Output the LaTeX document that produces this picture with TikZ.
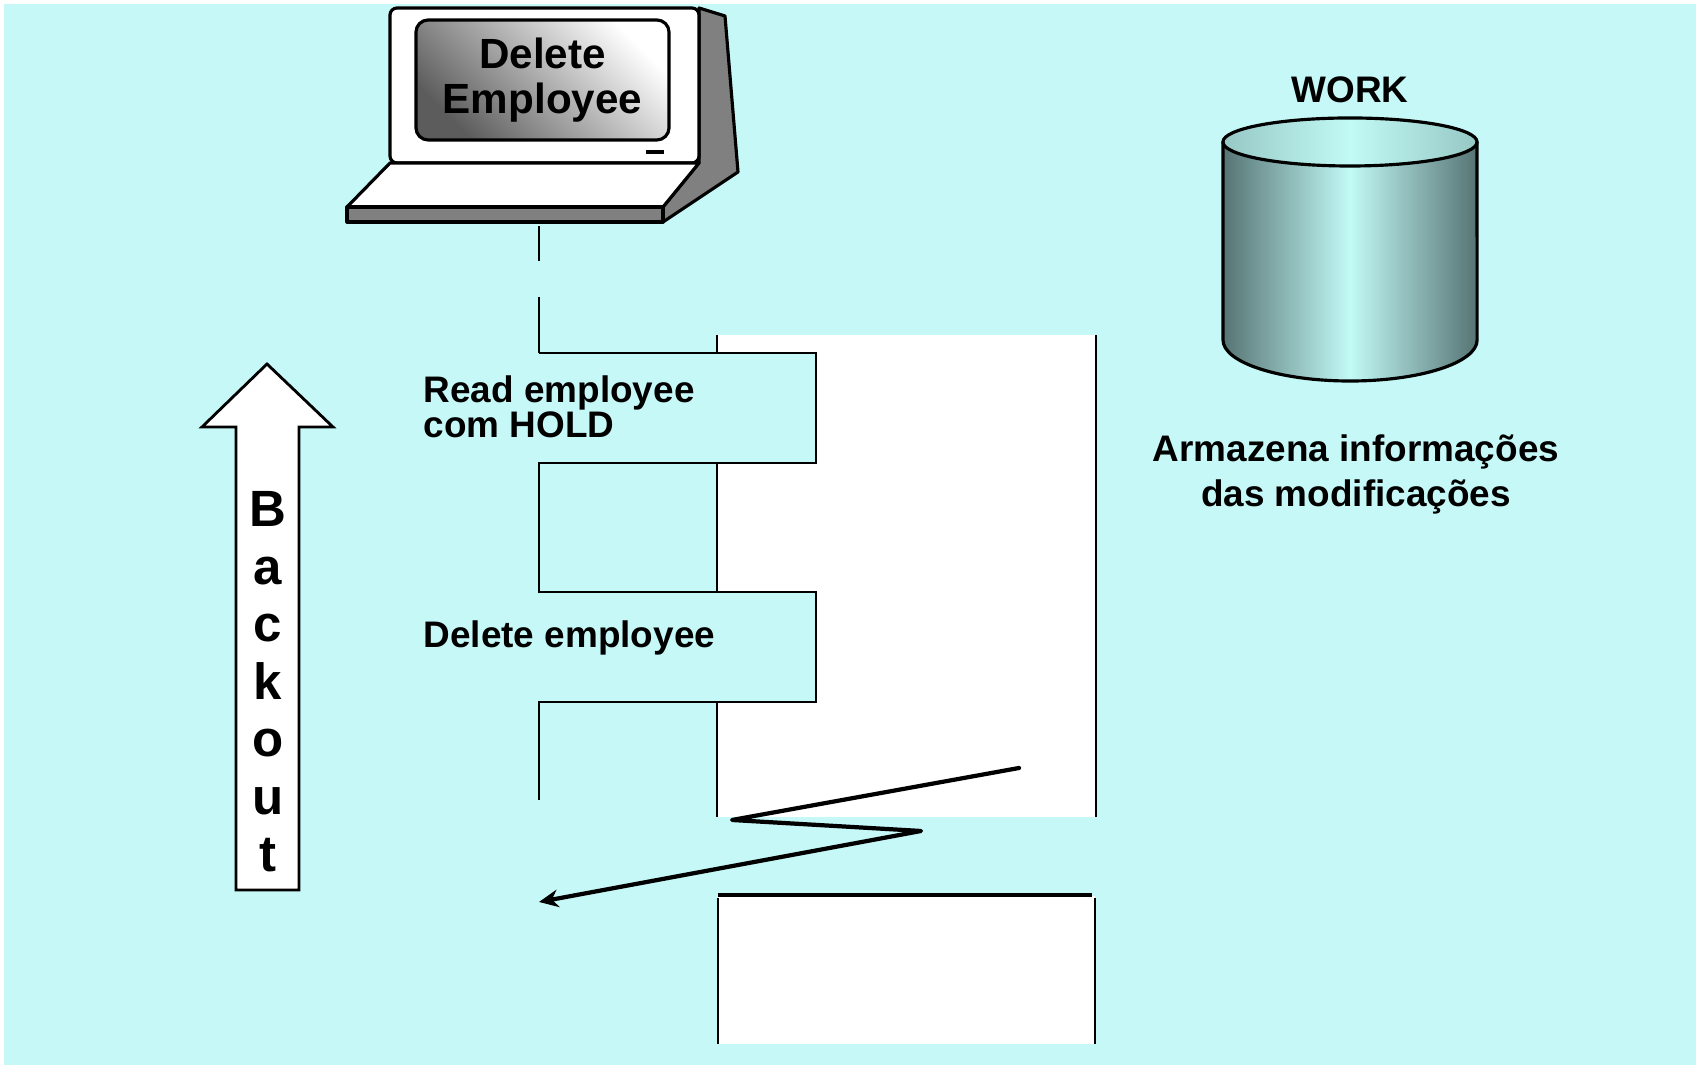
\documentclass[tikz,border=0pt]{standalone}
\usepackage{fontspec}
\setmainfont{Liberation Sans}
\usetikzlibrary{arrows.meta}

\definecolor{bgcyan}{RGB}{198,248,248}
\definecolor{casegray}{RGB}{128,128,128}
\definecolor{screendark}{RGB}{92,92,92}
\definecolor{drumdark}{RGB}{86,116,116}
\definecolor{drumlight}{RGB}{194,250,246}
\definecolor{drumrim}{RGB}{150,200,196}

\tikzset{
  txt/.style={font=\bfseries\fontsize{10.5}{10}\selectfont, inner sep=0pt},
  flow/.style={line width=0.7pt},
  case/.style={draw=black, line width=0.9pt, line join=round},
  screen/.style={case, rounded corners=3.5pt, minimum width=2.53cm, minimum height=1.2cm,
    top color=white, bottom color=screendark, shading angle=-45,
    align=center, font=\bfseries\fontsize{12}{13}\selectfont},
  backout/.style={font=\bfseries\fontsize{14.5}{14.5}\selectfont, inner sep=0pt, anchor=base},
}

\begin{document}
\begin{tikzpicture}[x=0.01cm, y=-0.01cm]
    \useasboundingbox (0,0) rectangle (1696,1065);
    \fill[bgcyan] (4,4) rectangle (1696,1065);

    % Terminal: side panel, face, keyboard
    \filldraw[case, fill=casegray] (699,8) -- (725,16) -- (738,172) -- (663,222) -- (663,207) -- (699,163) -- cycle;
    \filldraw[case, fill=white, rounded corners=2pt] (390,163) rectangle (699,8);
    \filldraw[case, fill=white] (390,163) -- (699,163) -- (663,207) -- (347,207) -- cycle;
    \filldraw[case, fill=casegray] (347,207) rectangle (663,222);
    \node[screen] (screen) at (542.5,80) {Delete\\Employee};
    \fill (646,150) rectangle (664,154);

    % Program flow
    \coordinate (kbd) at (539,226);
    \foreach \x/\y/\n in {539/353/f1, 816/353/f2, 816/463/f3, 539/463/f4, 539/592/f5,
                          816/592/f6, 816/702/f7, 539/702/f8, 539/800/f9} {
        \coordinate (\n) at (\x,\y);
    }
    \fill[white] (717,335) rectangle (1096,817);
    \draw[flow] (717,335) -- (717,817);
    \draw[flow] (1096,335) -- (1096,817);
    \fill[bgcyan] (f1) rectangle (f3);
    \fill[bgcyan] (f5) rectangle (f7);
    \draw[flow, dash pattern=on 10pt off 10.2pt on 30pt] (kbd) -- (f1);
    \draw[flow] (f1) -- (f2) -- (f3) -- (f4) -- (f5) -- (f6) -- (f7) -- (f8) -- (f9);
    \node[txt, align=left, anchor=base west] (readlbl) at (423,438) {Read employee\\com HOLD};
    \node[txt, anchor=base west] (dellbl) at (423,648) {Delete employee};

    % Next block
    \fill[white] (718,896) rectangle (1095,1044);
    \draw[flow] (718,1044) -- (718,898);
    \draw[flow] (1095,898) -- (1095,1044);
    \draw[line width=1pt] (718,895) -- (1092,895);

    % Abend
    \coordinate (zz0) at (1019,768);
    \coordinate (zz1) at (732,820);
    \coordinate (zz2) at (921,831);
    \coordinate (back) at (539,902);
    \draw[line width=1.2pt, line cap=round, line join=round, -{Stealth[length=5.5pt, width=5pt]}]
        (zz0) -- (zz1) -- (zz2) -- (back);

    % Backout arrow
    \filldraw[fill=white, line width=0.8pt] (267,364) -- (333,427) -- (299,427) -- (299,890)
        -- (236,890) -- (236,427) -- (202,427) -- cycle;
    \foreach \ch [count=\i from 0] in {B,a,c,k,o,u,t} {
        \node[backout] (bk\i) at (268,{527+57.5*\i}) {\ch};
    }

    % WORK file
    \shade[left color=drumdark, right color=drumdark, middle color=drumlight] (1223,142) -- (1223,340)
        arc[start angle=180, end angle=360, x radius=1.27cm, y radius=0.41cm] -- (1477,142) -- cycle;
    \shade[left color=drumrim, right color=drumrim, middle color=drumlight] (1350,142) ellipse[x radius=1.27cm, y radius=0.24cm];
    \draw[line width=0.9pt] (1223,142) -- (1223,340)
        arc[start angle=180, end angle=360, x radius=1.27cm, y radius=0.41cm] -- (1477,142);
    \draw[line width=0.9pt] (1350,142) ellipse[x radius=1.27cm, y radius=0.24cm];
    \node[txt, anchor=base] (work) at (1350,103) {WORK};
    \node[txt, font=\bfseries\fontsize{10.5}{12.8}\selectfont, align=center, anchor=base] (worknote)
        at (1356,507) {Armazena informações\\das modificações};
\end{tikzpicture}
\end{document}
